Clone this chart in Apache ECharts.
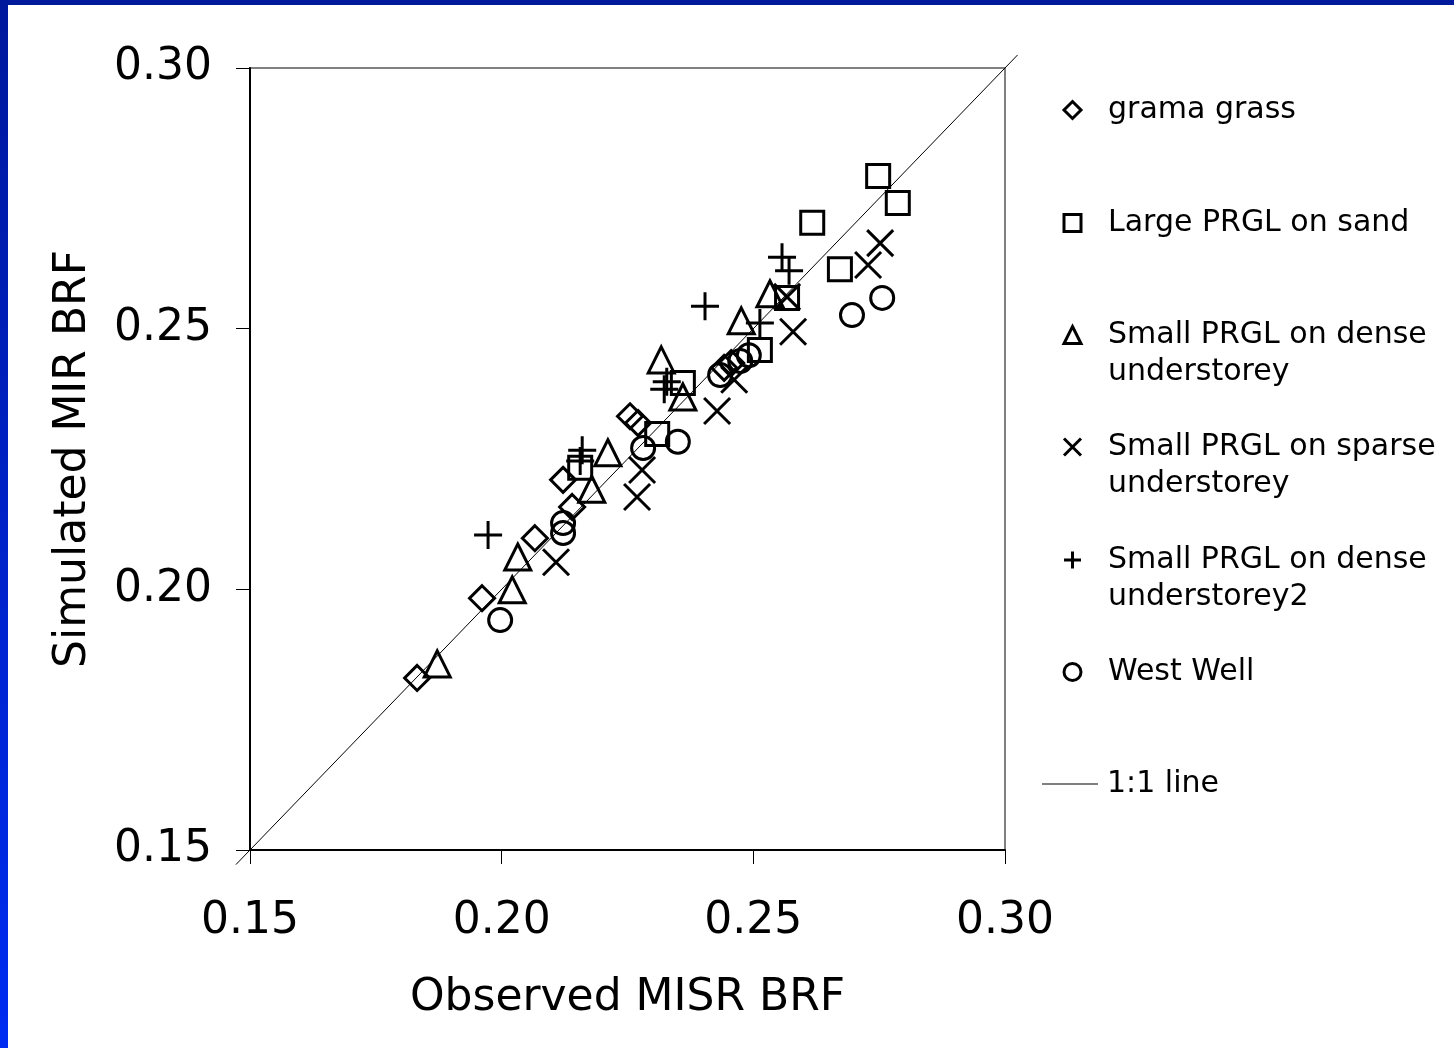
<!DOCTYPE html>
<html>
<head>
<meta charset="utf-8">
<title>Simulated vs observed BRF</title>
<script src="https://cdn.jsdelivr.net/npm/echarts@6/dist/echarts.min.js"></script>
<style>
  html, body { margin: 0; padding: 0; background: #fff; }
  #chart { width: 1454px; height: 1048px; }
</style>
</head>
<body>
<div id="chart"></div>
<script>
// Observed MISR BRF (x) against simulated MIR BRF (y), one array per site
const gramaGrass = [
  [0.1832, 0.1830], [0.1961, 0.1983], [0.2066, 0.2098], [0.2122, 0.2210],
  [0.2140, 0.2158], [0.2255, 0.2332], [0.2271, 0.2319], [0.2442, 0.2425],
  [0.2456, 0.2434]
];
const largeSand = [
  [0.2748, 0.2793], [0.2787, 0.2741], [0.2617, 0.2703], [0.2672, 0.2614],
  [0.2567, 0.2559], [0.2513, 0.2459], [0.2360, 0.2396], [0.2309, 0.2298],
  [0.2156, 0.2233]
];
const smallDense = [
  [0.1872, 0.1857], [0.2021, 0.1999], [0.2032, 0.2062], [0.2179, 0.2192],
  [0.2211, 0.2262], [0.2317, 0.2440], [0.2360, 0.2369], [0.2476, 0.2515],
  [0.2533, 0.2567]
];
const smallSparse = [
  [0.2108, 0.2052], [0.2269, 0.2177], [0.2279, 0.2229], [0.2428, 0.2342],
  [0.2462, 0.2402], [0.2579, 0.2494], [0.2567, 0.2561], [0.2728, 0.2622],
  [0.2752, 0.2664]
];
const smallDense2 = [
  [0.1973, 0.2104], [0.2160, 0.2267], [0.2156, 0.2246], [0.2328, 0.2398],
  [0.2323, 0.2384], [0.2404, 0.2543], [0.2513, 0.2511], [0.2557, 0.2637],
  [0.2571, 0.2611]
];
const westWell = [
  [0.1997, 0.1941], [0.2122, 0.2127], [0.2122, 0.2108], [0.2281, 0.2271],
  [0.2350, 0.2283], [0.2434, 0.2411], [0.2474, 0.2438], [0.2491, 0.2449],
  [0.2696, 0.2526], [0.2756, 0.2559]
];
// 1:1 reference line, running a little past both ends of the axes
const oneToOne = [[0.1472, 0.1472], [0.3025, 0.3025]];

const axisMin = 0.15;
const axisMax = 0.30;
const axisStep = 0.05;

const seriesNames = [
  'grama grass',
  'Large PRGL on sand',
  'Small PRGL on dense understorey',
  'Small PRGL on sparse understorey',
  'Small PRGL on dense understorey2',
  'West Well'
];
// legend wording, broken over lines
const legendLines = [
  ['grama grass'],
  ['Large PRGL on sand'],
  ['Small PRGL on dense', 'understorey'],
  ['Small PRGL on sparse', 'understorey'],
  ['Small PRGL on dense', 'understorey2'],
  ['West Well']
];
const lineName = '1:1 line';

const crossPath = 'path://M0,0L20,20M20,0L0,20';
const plusPath = 'path://M10,0L10,20M0,10L20,10';

const FONT = '"DejaVu Sans", Verdana, sans-serif';
const markerStroke = 3;

const markerSpecs = [
  { data: gramaGrass, symbol: 'diamond', size: 25 },
  { data: largeSand, symbol: 'rect', size: 23 },
  { data: smallDense, symbol: 'triangle', size: 26 },
  { data: smallSparse, symbol: crossPath, size: 26 },
  { data: smallDense2, symbol: plusPath, size: 28 },
  { data: westWell, symbol: 'circle', size: 23 }
];

const scatterSeries = markerSpecs.map((m, i) => ({
  name: seriesNames[i],
  type: 'scatter',
  data: m.data,
  symbol: m.symbol,
  symbolSize: m.size,
  itemStyle: { color: 'transparent', borderColor: '#000', borderWidth: markerStroke, opacity: 1 },
  emphasis: { disabled: true },
  z: 3
}));

// legend rows: centre y of the first text line of each entry
const legendRowY = [110, 223, 335, 447, 560, 672, 784];
const LEGEND_LH = 37;
const LEGEND_ICON = 17;

const legends = seriesNames.map((name, i) => {
  const lines = legendLines[i];
  const twoLines = lines.length > 1;
  // a leading empty line keeps the first text line level with the icon
  const label = twoLines ? '\n' + lines.join('\n') : lines[0];
  return {
    data: [name],
    left: 1071 - LEGEND_ICON / 2,
    top: legendRowY[i] - (twoLines ? LEGEND_LH * 1.5 : LEGEND_LH / 2),
    padding: 0,
    itemWidth: LEGEND_ICON,
    itemHeight: LEGEND_ICON,
    selectedMode: false,
    formatter: () => label,
    itemStyle: { color: 'transparent', borderColor: '#000', borderWidth: 3, opacity: 1 },
    textStyle: {
      fontFamily: FONT, fontSize: 30, color: '#000', lineHeight: LEGEND_LH,
      padding: [0, 0, 0, 22]
    }
  };
});
legends.push({
  data: [lineName],
  left: 1042,
  top: legendRowY[6] - LEGEND_LH / 2,
  padding: 0,
  icon: 'rect',
  itemWidth: 56,
  itemHeight: 1,
  selectedMode: false,
  itemStyle: { color: '#000', borderWidth: 0, opacity: 1 },
  textStyle: { fontFamily: FONT, fontSize: 30, color: '#000', lineHeight: LEGEND_LH, padding: [0, 0, 0, 4] }
});

const axisCommon = {
  type: 'value',
  min: axisMin,
  max: axisMax,
  interval: axisStep,
  nameLocation: 'middle',
  nameTextStyle: { fontFamily: FONT, fontSize: 44, color: '#000', lineHeight: 44 },
  axisLine: { show: true, lineStyle: { color: '#000', width: 2 } },
  axisTick: { show: true, inside: false, length: 14, lineStyle: { color: '#000', width: 1 } },
  splitLine: { show: false },
  axisLabel: {
    fontFamily: FONT, fontSize: 44, color: '#000',
    formatter: v => v.toFixed(2)
  }
};

// the 1:1 segment as one row: start x, start y, end x, end y
const oneToOneRow = [oneToOne[0][0], oneToOne[0][1], oneToOne[1][0], oneToOne[1][1]];

const chart = echarts.init(document.getElementById('chart'), null, { renderer: 'canvas' });
chart.setOption({
  backgroundColor: '#fff',
  animation: false,
  grid: {
    left: 250, top: 68, right: 449, bottom: 198,
    show: true, borderColor: '#808080', borderWidth: 2, backgroundColor: 'transparent',
    outerBoundsMode: 'none'
  },
  xAxis: Object.assign({}, axisCommon, {
    name: 'Observed MISR BRF',
    nameGap: 127,
    axisLabel: Object.assign({}, axisCommon.axisLabel, { margin: 50 })
  }),
  yAxis: Object.assign({}, axisCommon, {
    name: 'Simulated MIR BRF',
    nameGap: 154,
    axisLabel: Object.assign({}, axisCommon.axisLabel, { margin: 38 })
  }),
  legend: legends,
  series: scatterSeries.concat([{
    name: lineName,
    type: 'custom',
    clip: false,
    data: [oneToOneRow],
    encode: { x: [0, 2], y: [1, 3] },
    renderItem: (params, api) => {
      const p0 = api.coord([api.value(0), api.value(1)]);
      const p1 = api.coord([api.value(2), api.value(3)]);
      return {
        type: 'line',
        shape: { x1: p0[0], y1: p0[1], x2: p1[0], y2: p1[1] },
        style: { stroke: '#000', lineWidth: 1, fill: null }
      };
    },
    itemStyle: { color: '#000' },
    emphasis: { disabled: true },
    z: 2
  }]),
  graphic: [
    {
      type: 'rect', left: 0, top: 0, z: 100,
      shape: { width: 1454, height: 5 },
      style: { fill: '#001a9c' }
    },
    {
      type: 'rect', left: 0, top: 0, z: 100,
      shape: { width: 8, height: 1048 },
      style: {
        fill: new echarts.graphic.LinearGradient(0, 0, 0, 1, [
          { offset: 0, color: '#00189c' },
          { offset: 1, color: '#002cf2' }
        ])
      }
    }
  ]
});
</script>
</body>
</html>
